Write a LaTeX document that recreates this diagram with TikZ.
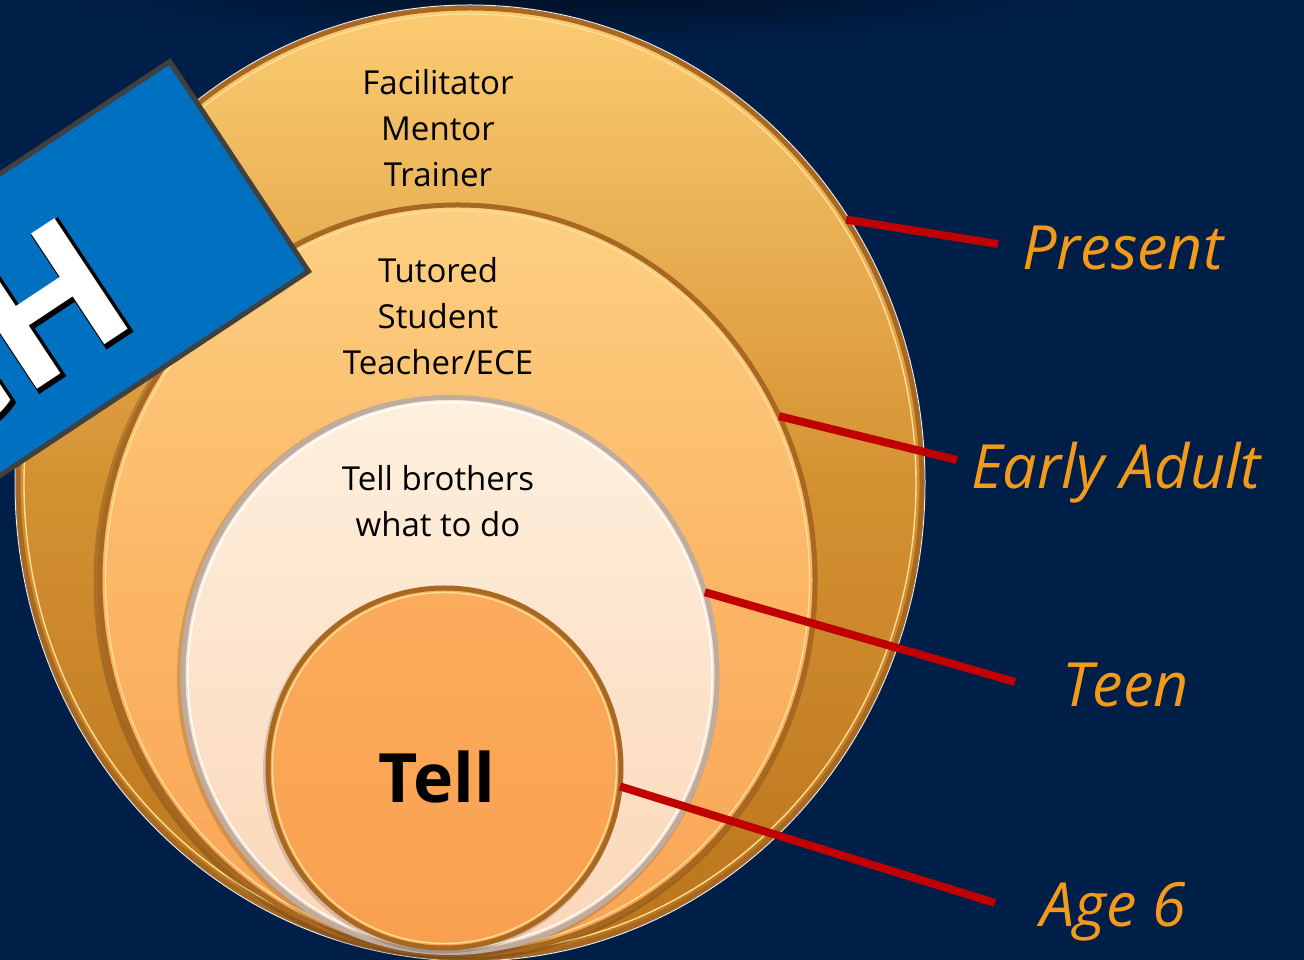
\documentclass[tikz,border=0pt]{standalone}
\usepackage{fontspec}
\setmainfont{Open Sans}
\newfontface\bannerthick{Open Sans Bold}[FakeBold=2.4]
\usetikzlibrary{shapes.geometric,fadings}

\definecolor{navy}{RGB}{0,31,72}
\definecolor{leadred}{RGB}{192,0,0}
\definecolor{labelorange}{RGB}{243,154,26}
\definecolor{bannerblue}{RGB}{0,112,192}
\definecolor{bannerline}{RGB}{64,64,64}
\definecolor{rimbronze}{RGB}{168,104,34}
\definecolor{rimgold}{RGB}{255,222,150}
\definecolor{rimpale}{RGB}{236,232,222}
\definecolor{rimsilver}{RGB}{190,172,160}

\tikzfading[name=softglow, inner color=transparent!0, outer color=transparent!100]

\tikzset{
  ring/.style={ellipse, inner sep=0pt, outer sep=0pt, line width=5pt, draw=rimbronze},
  rimshine/.style={line width=1.4pt, draw=rimgold},
  rimedge/.style={line width=1pt, draw=rimpale},
  roletext/.style={align=center, inner sep=0pt, text=black, anchor=base,
    font=\fontsize{33}{46}\selectfont},
  agelabel/.style={inner sep=0pt, text=labelorange, anchor=base west,
    font=\fontsize{61}{70}\selectfont\itshape},
  leader/.style={draw=leadred, line width=8pt},
  bannerbox/.style={rectangle, fill=bannerblue, draw=bannerline, line width=5pt,
    inner sep=0pt},
  bannertext/.style={inner sep=0pt, anchor=base east},
}

\begin{document}
\begin{tikzpicture}[x=1pt,y=1pt]
  % backdrop
  \fill[navy] (0,0) rectangle (1304,960);
  \useasboundingbox (0,0) rectangle (1304,960);
  \fill[black, opacity=.5, path fading=softglow, fit fading=true]
    (580,968) ellipse [x radius=500, y radius=50];

  % nested rings, outermost first
  \node[ring, minimum width=904, minimum height=950,
        top color={rgb,255:red,252;green,204;blue,114},
        bottom color={rgb,255:red,186;green,116;blue,28},
        middle color={rgb,255:red,212;green,145;blue,50}] (present) at (470,477) {};
  \draw[rimedge] (470,477) ellipse [x radius=455, y radius=478];
  \draw[rimshine] (470,477) ellipse [x radius=446, y radius=469];

  \fill[black, opacity=.18] (455.5,378) ellipse [x radius=362, y radius=379];
  \node[ring, minimum width=715, minimum height=750,
        top color={rgb,255:red,253;green,208;blue,130},
        bottom color={rgb,255:red,249;green,164;blue,84},
        middle color={rgb,255:red,251;green,182;blue,102}] (early) at (457.5,380) {};
  \draw[rimshine] (457.5,380) ellipse [x radius=352, y radius=369.5];

  \fill[black, opacity=.15] (448,283) ellipse [x radius=271, y radius=281.5];
  \node[ring, draw=rimsilver, minimum width=534, minimum height=555,
        top color={rgb,255:red,253;green,240;blue,222},
        bottom color={rgb,255:red,252;green,214;blue,184}] (teen) at (450,285) {};
  \draw[line width=1.4pt, draw=white] (450,285) ellipse [x radius=262, y radius=272.5];

  \fill[black, opacity=.15] (443,190) ellipse [x radius=180, y radius=183.5];
  \node[ring, minimum width=353, minimum height=360,
        top color={rgb,255:red,251;green,172;blue,92},
        bottom color={rgb,255:red,249;green,160;blue,80}] (age) at (444.5,192) {};
  \draw[rimshine] (444.5,192) ellipse [x radius=172, y radius=175.5];

  % texts inside the rings (anchored at the baseline of the last line)
  \node[roletext] (rolesNow) at (438,773) {Facilitator\\Mentor\\Trainer};
  \node[roletext] (rolesEarly) at (438,585) {Tutored\\Student\\Teacher/ECE};
  \node[roletext] (rolesTeen) at (438,423) {Tell brothers\\what to do};
  \node[inner sep=0pt, anchor=base, font=\fontsize{68}{70}\selectfont\bfseries]
       (rolesChild) at (437,157) {Tell};

  % stage labels
  \node[agelabel] (presentLbl) at (1022,690) {Present};
  \node[agelabel] (earlyLbl) at (971,471) {Early Adult};
  \node[agelabel] (teenLbl) at (1062,253) {Teen};
  \node[agelabel] (ageLbl) at (1040,33) {Age 6};

  \coordinate (presentEnd) at (998,716);
  \coordinate (earlyEnd) at (957,500);
  \coordinate (teenEnd) at (1015,278);
  \coordinate (ageEnd) at (995,57);

  \draw[leader] (present.35.7) -- (presentEnd);
  \draw[leader] (early.27.3) -- (earlyEnd);
  \draw[leader] (teen.18) -- (teenEnd);
  \draw[leader] (age.-6.2) -- (ageEnd);

  % tilted banner in the upper left corner
  \begin{scope}
    \clip (0,0) rectangle (1304,960);
    \node[bannerbox, rotate=33.5, anchor=south east,
          minimum width=700, minimum height=251.5] (banner) at (312,688) {};
    \begin{scope}[shift={(banner.south east)}, rotate=33.5, transform shape]
      % thickened black copy gives the outline and the drop shadow
      \node[bannertext, text=black, font=\fontsize{186}{190}\bannerthick]
           (bannerShadow) at (-166.8,51) {CH};
      \node[bannertext, text=white, font=\fontsize{186}{190}\selectfont\bfseries]
           (bannerWord) at (-168,54) {CH};
    \end{scope}
  \end{scope}
\end{tikzpicture}
\end{document}
